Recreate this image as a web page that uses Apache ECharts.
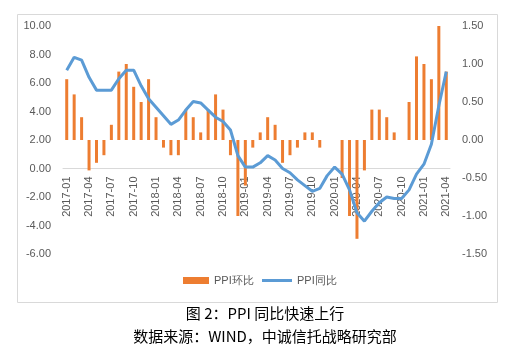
<!DOCTYPE html>
<html><head><meta charset="utf-8">
<script src="https://cdn.jsdelivr.net/npm/echarts@6/dist/echarts.min.js"></script>
<style>html,body{margin:0;padding:0;background:#fff}#c{width:515px;height:359px}</style>
</head><body><div id="c"></div>
<script>
const months = ['2017-01','2017-02','2017-03','2017-04','2017-05','2017-06','2017-07','2017-08','2017-09','2017-10','2017-11','2017-12',
'2018-01','2018-02','2018-03','2018-04','2018-05','2018-06','2018-07','2018-08','2018-09','2018-10','2018-11','2018-12',
'2019-01','2019-02','2019-03','2019-04','2019-05','2019-06','2019-07','2019-08','2019-09','2019-10','2019-11','2019-12',
'2020-01','2020-02','2020-03','2020-04','2020-05','2020-06','2020-07','2020-08','2020-09','2020-10','2020-11','2020-12',
'2021-01','2021-02','2021-03','2021-04'];
const ppiMoM = [0.8,0.6,0.3,-0.4,-0.3,-0.2,0.2,0.9,1.0,0.7,0.5,0.8,
0.3,-0.1,-0.2,-0.2,0.4,0.3,0.1,0.4,0.6,0.4,-0.2,-1.0,
-0.6,-0.1,0.1,0.3,0.2,-0.3,-0.2,-0.1,0.1,0.1,-0.1,0.0,
0.0,-0.5,-1.0,-1.3,-0.4,0.4,0.4,0.3,0.1,0.0,0.5,1.1,
1.0,0.8,1.5,0.9];
const ppiYoY = [6.9,7.8,7.6,6.4,5.5,5.5,5.5,6.3,6.9,6.9,5.8,4.9,
4.3,3.7,3.1,3.4,4.1,4.7,4.6,4.1,3.6,3.3,2.7,0.9,
0.1,0.1,0.4,0.9,0.6,0.0,-0.3,-0.8,-1.2,-1.6,-1.4,-0.5,
0.1,-0.4,-1.5,-3.1,-3.7,-3.0,-2.4,-2.0,-2.1,-2.1,-1.5,-0.4,
0.3,1.7,4.4,6.8];
const leftTicks = {min:-6, max:10, interval:2};
const rightTicks = {min:-1.5, max:1.5, interval:0.5};
const seriesNames = ['PPI环比','PPI同比'];
const title1 = '图 2：PPI 同比快速上行';
const title2 = '数据来源：WIND，中诚信托战略研究部';

const gridTop = 26, gridH = 228;
// x axis sits at the left axis zero: shift it up from the grid bottom
const zeroShift = gridH * (0 - leftTicks.min) / (leftTicks.max - leftTicks.min);

const chart = echarts.init(document.getElementById('c'), null, {renderer:'canvas'});
const lblColor = '#595959';
const font = 'Liberation Sans, Arial, sans-serif';
chart.setOption({
  animation:false,
  grid:{left:63, right:65, top:gridTop, height:gridH},
  legend:[
    {data:[{name:seriesNames[0], icon:'rect'}], left:183, top:275, padding:0, itemWidth:26, itemHeight:7, itemGap:4,
     textStyle:{color:lblColor, fontSize:11, fontFamily:font}},
    {data:[{name:seriesNames[1], icon:'path://M0,0 L30,0 L30,3 L0,3 Z'}], left:262, top:275, padding:0, itemWidth:30, itemHeight:3, itemGap:4,
     textStyle:{color:lblColor, fontSize:11, fontFamily:font}, itemStyle:{borderWidth:0}}
  ],
  xAxis:{type:'category', data:months, boundaryGap:true, offset:-zeroShift,
    axisLine:{onZero:false, lineStyle:{color:'#d9d9d9', width:1}},
    axisTick:{show:false},
    axisLabel:{rotate:90, interval:2, color:lblColor, fontSize:11, fontFamily:font, margin:8}},
  yAxis:[
    {type:'value', position:'left', min:leftTicks.min, max:leftTicks.max, interval:leftTicks.interval,
     axisLine:{show:false}, axisTick:{show:false}, splitLine:{show:false},
     axisLabel:{formatter:v=>v.toFixed(2), color:lblColor, fontSize:11, fontFamily:font, margin:12}},
    {type:'value', position:'right', min:rightTicks.min, max:rightTicks.max, interval:rightTicks.interval,
     axisLine:{show:false}, axisTick:{show:false}, splitLine:{show:false},
     axisLabel:{formatter:v=>v.toFixed(2), color:lblColor, fontSize:11, fontFamily:font, margin:12}}
  ],
  series:[
    {name:seriesNames[0], type:'bar', yAxisIndex:1, data:ppiMoM, barWidth:3, itemStyle:{color:'#ED7D31'}, z:2},
    {name:seriesNames[1], type:'line', yAxisIndex:0, data:ppiYoY, showSymbol:false, symbol:'none',
     lineStyle:{color:'#5B9BD5', width:3}, itemStyle:{color:'#5B9BD5'}, z:3}
  ],
  graphic:[
    {type:'rect', left:15, top:12, shape:{width:480, height:288}, style:{fill:'none', stroke:'#d9d9d9', lineWidth:1}, silent:true, z:-1},
    {type:'text', x:265, y:313, style:{text:title1, fill:'#000', font:'15px "Noto Sans CJK SC"', textAlign:'center', textVerticalAlign:'middle'}},
    {type:'text', x:265, y:336, style:{text:title2, fill:'#000', font:'15px "Noto Sans CJK SC"', textAlign:'center', textVerticalAlign:'middle'}}
  ]
});
</script></body></html>
